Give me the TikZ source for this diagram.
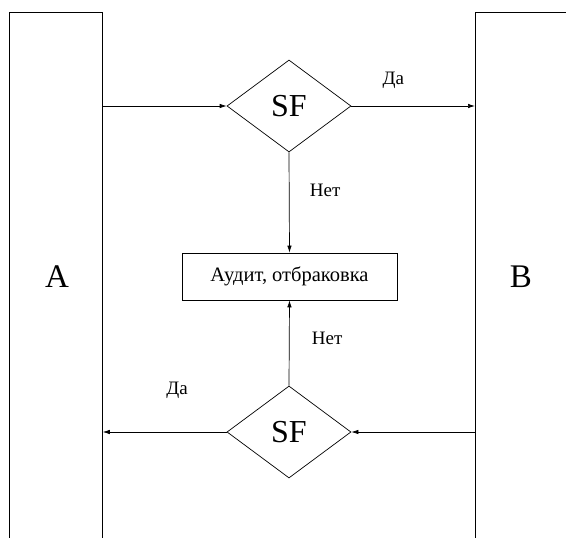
\documentclass[tikz,border=0pt]{standalone}
\usepackage{fontspec}
\setmainfont{Liberation Serif}
\usetikzlibrary{shapes.geometric, arrows.meta, positioning}

\begin{document}
\begin{tikzpicture}[x=1pt, y=-1pt,
    column/.style={rectangle, draw, line width=0.8pt, minimum width=93pt, minimum height=560pt, anchor=north west, inner sep=0pt},
    decision/.style={diamond, draw, line width=0.7pt, minimum width=124pt, minimum height=92pt, inner sep=0pt, font=\fontsize{32}{32}\selectfont},
    process/.style={rectangle, draw, line width=0.7pt, minimum width=215pt, minimum height=47pt, font=\fontsize{20.5}{20.5}\selectfont},
    side/.style={font=\fontsize{33}{33}\selectfont},
    answer/.style={font=\fontsize{19}{19}\selectfont},
    flow/.style={-{Latex[length=7pt,width=4.5pt]}, line width=0.7pt}]

\useasboundingbox (0,0) rectangle (566,538);
\clip (0,0) rectangle (566,538);

\node[column] (colA) at (9,12) {};
\node[column, minimum width=120pt] (colB) at (475,12) {};
\node[side] (labA) at (57,277) {A};
\node[side] (labB) at (521,277) {B};

\node[decision] (sf1) at (289,106) {SF};
\node[process] (audit) at (289.5,276.5) {Аудит, отбраковка};
\node[decision] (sf2) at (289,432) {SF};

\draw[flow] (colA.east |- sf1) -- (sf1.west);
\draw[flow] (sf1.east) -- node[answer, pos=0.34, above=14pt] {Да} (colB.west |- sf1);
\draw[flow] (sf1.south) -- node[answer, pos=0.38, right=17pt] {Нет} (audit.north);

\draw[flow] (colB.west |- sf2) -- (sf2.east);
\draw[flow] (sf2.west) -- node[answer, pos=0.4, above=30pt] {Да} (colA.east |- sf2);
\draw[flow] (sf2.north) -- node[answer, pos=0.55, right=19pt] {Нет} (audit.south);
\end{tikzpicture}
\end{document}
